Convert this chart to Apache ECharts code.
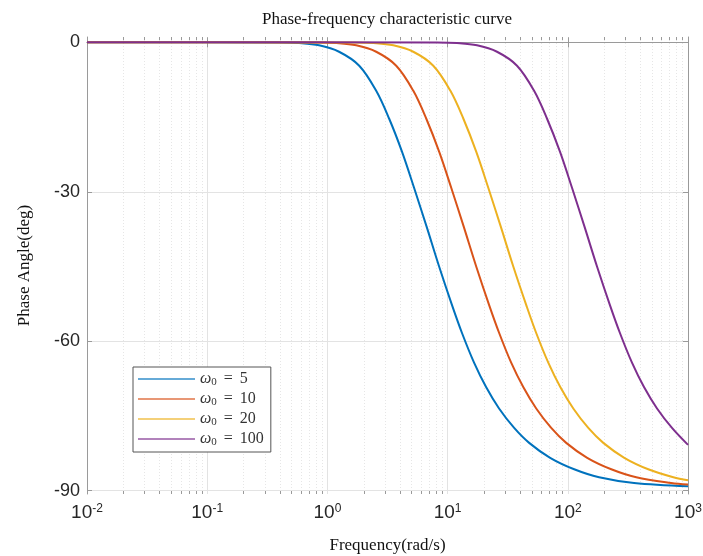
<!DOCTYPE html>
<html>
<head>
<meta charset="utf-8">
<script src="https://cdn.jsdelivr.net/npm/echarts@6/dist/echarts.min.js"></script>
<style>html,body{margin:0;padding:0;background:#fff;}#chart{width:703px;height:556px;}</style>
</head>
<body>
<div id="chart"></div>
<script>
// ---- data ----
const SERIES_NAMES = ['ω0 = 5', 'ω0 = 10', 'ω0 = 20', 'ω0 = 100'];
const SERIES_COLORS = ['#0072BD', '#D95319', '#EDB120', '#7E2F8E'];

const FREQ_5  = [0.01, 0.397, 0.581, 0.853, 1.25, 1.84, 2.54, 3.26, 4.18, 5.26, 6.69, 8.5, 10.9, 13.2, 16.6, 20.9, 26.8, 35.8, 47.7, 71.3, 113, 182, 356, 1000];
const PHASE_5 = [0, -0.03, -0.15, -0.6, -1.9, -4.7, -9.7, -15.3, -22.0, -29.2, -37.0, -45.0, -52.8, -58.4, -64.3, -69.2, -73.5, -77.4, -80.4, -83.4, -85.7, -87.3, -88.45, -89.1];

const FREQ_10  = [0.01, 0.808, 1.183, 1.737, 2.547, 3.737, 5.174, 6.638, 8.517, 10.72, 13.62, 17.3, 22.2, 26.9, 33.8, 42.6, 54.6, 72.8, 97.0, 145, 230, 371, 725, 1000];
const PHASE_10 = [0, -0.03, -0.15, -0.6, -1.9, -4.7, -9.7, -15.3, -22.0, -29.2, -37.0, -45.0, -52.8, -58.4, -64.3, -69.2, -73.5, -77.4, -80.4, -83.4, -85.7, -87.3, -88.45, -88.75];

const FREQ_20  = [0.01, 1.644, 2.408, 3.534, 5.181, 7.603, 10.53, 13.51, 17.33, 21.80, 27.70, 35.2, 45.2, 54.7, 68.8, 86.6, 111.1, 148.1, 197.4, 295, 467, 755, 1000];
const PHASE_20 = [0, -0.03, -0.15, -0.6, -1.9, -4.7, -9.7, -15.3, -22.0, -29.2, -37.0, -45.0, -52.8, -58.4, -64.3, -69.2, -73.5, -77.4, -80.4, -83.4, -85.7, -87.3, -87.9];

const FREQ_100  = [0.01, 8.17, 11.97, 17.57, 25.76, 37.8, 52.3, 67.1, 86.2, 108.4, 137.7, 175, 224.5, 272, 342, 430.5, 552.5, 736, 1000];
const PHASE_100 = [0, -0.03, -0.15, -0.6, -1.9, -4.7, -9.7, -15.3, -22.0, -29.2, -37.0, -45.0, -52.8, -58.4, -64.3, -69.2, -73.5, -77.4, -80.8];

const X_MIN = 0.01, X_MAX = 1000;
const Y_MIN = -90.66, Y_MAX = 1.06;
const Y_TICKS = [0, -30, -60, -90];
const MINOR_X_TICKS = [
  0.02, 0.03, 0.04, 0.05, 0.06, 0.07, 0.08, 0.09,
  0.2, 0.3, 0.4, 0.5, 0.6, 0.7, 0.8, 0.9,
  2, 3, 4, 5, 6, 7, 8, 9,
  20, 30, 40, 50, 60, 70, 80, 90,
  200, 300, 400, 500, 600, 700, 800, 900
];

const TITLE = 'Phase-frequency characteristic curve';
const X_NAME = 'Frequency(rad/s)';
const Y_NAME = 'Phase Angle(deg)';

// ---- build ----
function pairs(xs, ys) { return xs.map((x, i) => [x, ys[i]]); }
const SERIES_DATA = [pairs(FREQ_5, PHASE_5), pairs(FREQ_10, PHASE_10), pairs(FREQ_20, PHASE_20), pairs(FREQ_100, PHASE_100)];

const FRAME = '#9a9a9a';
const TXT = '#262626';
const SANS = '"Liberation Sans", Arial, sans-serif';
const SERIF = '"Liberation Serif", "Times New Roman", serif';

const chart = echarts.init(document.getElementById('chart'), null, {renderer: 'canvas'});

const lineSeries = SERIES_NAMES.map((name, i) => ({
  name: name,
  type: 'line',
  data: SERIES_DATA[i],
  xAxisIndex: 0, yAxisIndex: 0,
  symbol: 'none',
  showSymbol: false,
  smooth: 0.35,
  z: 5,
  lineStyle: {color: SERIES_COLORS[i], width: 2},
  itemStyle: {color: SERIES_COLORS[i]},
  silent: true,
  animation: false
}));

const minorSeries = {
  type: 'custom',
  name: 'minor',
  coordinateSystem: 'cartesian2d',
  xAxisIndex: 0, yAxisIndex: 0,
  data: MINOR_X_TICKS.map(v => [v]),
  encode: {x: 0},
  silent: true,
  z: 1,
  renderItem: function (params, api) {
    const v = api.value(0);
    const b = api.coord([v, Y_MIN]);
    const t = api.coord([v, Y_MAX]);
    const x = Math.round(b[0]) + 0.5;
    return {
      type: 'group',
      children: [
        {type: 'line', shape: {x1: x, y1: b[1], x2: x, y2: t[1]},
         style: {stroke: '#e6e6e6', lineWidth: 1, lineDash: [1, 2]}},
        {type: 'line', shape: {x1: x, y1: b[1], x2: x, y2: b[1] - 3},
         style: {stroke: FRAME, lineWidth: 1}},
        {type: 'line', shape: {x1: x, y1: t[1], x2: x, y2: t[1] + 3},
         style: {stroke: FRAME, lineWidth: 1}}
      ]
    };
  }
};

const option = {
  animation: false,
  backgroundColor: '#ffffff',
  title: {
    text: TITLE,
    left: 387, top: 11, padding: 0,
    textAlign: 'center',
    textStyle: {fontFamily: SERIF, fontSize: 17, fontWeight: 'normal', color: '#111'}
  },
  grid: {left: 87, right: 15, top: 37, bottom: 62, containLabel: false, outerBoundsMode: 'none'},
  legend: {
    data: SERIES_NAMES.map((n, i) => ({name: n, icon: 'rect', itemStyle: {color: SERIES_COLORS[i], opacity: 0.8}})),
    orient: 'vertical',
    left: 133, top: 367,
    padding: [4, 7, 4, 5],
    itemGap: 3,
    itemWidth: 57, itemHeight: 1.4,
    backgroundColor: '#ffffff',
    borderColor: '#555',
    borderWidth: 1,
    borderRadius: 0,
    selectedMode: false,
    formatter: function (name) {
      const n = name.split('= ')[1];
      return '{w|ω}{z|0}{e| = }{n|' + n + '}';
    },
    textStyle: {
      fontFamily: SERIF, color: '#333',
      rich: {
        w: {fontFamily: SERIF, fontStyle: 'italic', fontSize: 16, lineHeight: 18, verticalAlign: 'middle', color: '#333'},
        z: {fontFamily: SERIF, fontSize: 11, lineHeight: 11, verticalAlign: 'bottom', color: '#333'},
        e: {fontFamily: SERIF, fontSize: 16, lineHeight: 18, verticalAlign: 'middle', color: '#333', padding: [0, 3, 0, 3]},
        n: {fontFamily: SERIF, fontSize: 16, lineHeight: 18, verticalAlign: 'middle', color: '#333'}
      }
    }
  },
  xAxis: [
    {
      type: 'log', logBase: 10, min: X_MIN, max: X_MAX,
      position: 'bottom',
      name: X_NAME, nameLocation: 'middle', nameGap: 43,
      nameTextStyle: {fontFamily: SERIF, fontSize: 17, color: '#111'},
      axisLine: {show: true, lineStyle: {color: FRAME, width: 1}},
      axisTick: {show: true, inside: true, length: 5, lineStyle: {color: FRAME}},
      axisLabel: {
        show: true, margin: 9,
        formatter: function (v) {
          const e = Math.round(Math.log10(v));
          return '{b|10}{s|' + e + '}';
        },
        rich: {
          b: {fontFamily: SANS, fontSize: 19, lineHeight: 19, verticalAlign: 'bottom', color: TXT},
          s: {fontFamily: SANS, fontSize: 12, lineHeight: 14, verticalAlign: 'top', color: TXT}
        }
      },
      splitLine: {show: true, lineStyle: {color: '#e3e3e3', width: 1}},
      minorTick: {show: false},
      minorSplitLine: {show: false}
    },
    {
      type: 'log', logBase: 10, min: X_MIN, max: X_MAX,
      position: 'top',
      axisLine: {show: true, lineStyle: {color: FRAME, width: 1}},
      axisTick: {show: true, inside: true, length: 5, lineStyle: {color: FRAME}},
      axisLabel: {show: false},
      splitLine: {show: false}
    }
  ],
  yAxis: [
    {
      type: 'value', min: Y_MIN, max: Y_MAX, splitNumber: 3,
      position: 'left',
      name: Y_NAME, nameLocation: 'middle', nameGap: 54, nameRotate: 90,
      nameTextStyle: {fontFamily: SERIF, fontSize: 17, color: '#111'},
      axisLine: {show: true, lineStyle: {color: FRAME, width: 1}},
      axisTick: {show: true, inside: true, length: 5, customValues: Y_TICKS, lineStyle: {color: FRAME}},
      axisLabel: {show: true, margin: 7, customValues: Y_TICKS, fontFamily: SANS, fontSize: 18, color: TXT,
                  showMinLabel: true, showMaxLabel: true},
      splitLine: {show: true, lineStyle: {color: '#e3e3e3', width: 1}}
    },
    {
      type: 'value', min: Y_MIN, max: Y_MAX, splitNumber: 3,
      position: 'right',
      axisLine: {show: true, lineStyle: {color: FRAME, width: 1}},
      axisTick: {show: true, inside: true, length: 5, customValues: Y_TICKS, lineStyle: {color: FRAME}},
      axisLabel: {show: false},
      splitLine: {show: false}
    }
  ],
  series: [minorSeries].concat(lineSeries)
};

chart.setOption(option);
</script>
</body>
</html>
